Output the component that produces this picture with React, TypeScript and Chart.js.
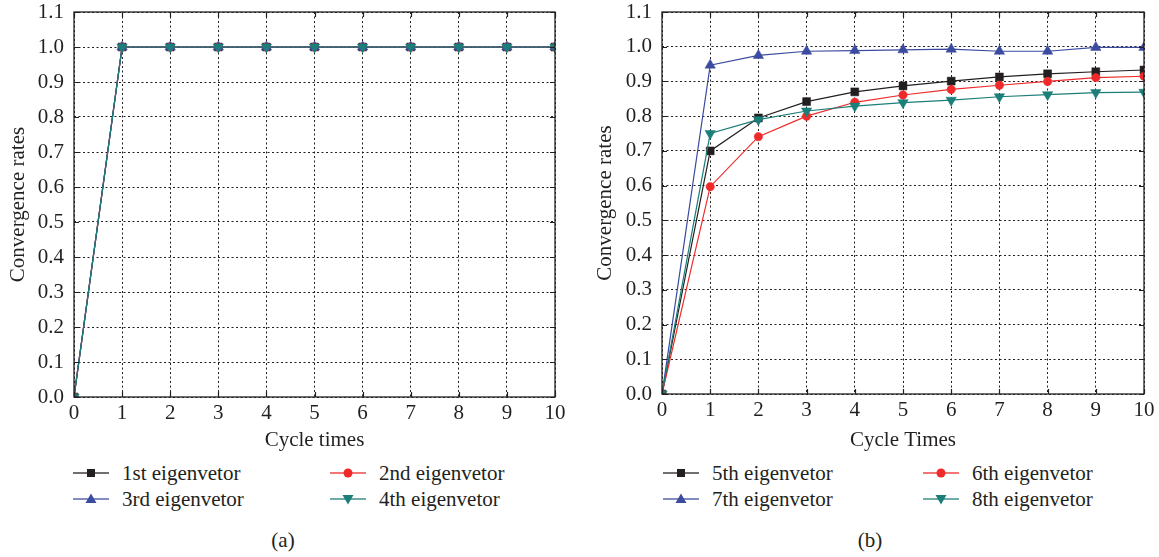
import React, { useEffect, useRef } from "react";
import { Chart, registerables } from "chart.js";

Chart.register(...registerables);

// ---------- data ----------
const cycles = [0, 1, 2, 3, 4, 5, 6, 7, 8, 9, 10];

const eig1 = [0, 1, 1, 1, 1, 1, 1, 1, 1, 1, 1];
const eig2 = [0, 1, 1, 1, 1, 1, 1, 1, 1, 1, 1];
const eig3 = [0, 1, 1, 1, 1, 1, 1, 1, 1, 1, 1];
const eig4 = [0, 1, 1, 1, 1, 1, 1, 1, 1, 1, 1];

const eig5 = [0, 0.7, 0.795, 0.842, 0.87, 0.887, 0.901, 0.913, 0.922, 0.928, 0.933];
const eig6 = [0, 0.597, 0.741, 0.8, 0.84, 0.861, 0.877, 0.889, 0.9, 0.911, 0.915];
const eig7 = [0, 0.947, 0.975, 0.987, 0.989, 0.991, 0.993, 0.987, 0.987, 0.998, 0.998];
const eig8 = [0, 0.75, 0.79, 0.815, 0.829, 0.839, 0.846, 0.856, 0.862, 0.868, 0.869];

const labelsA = ["1st eigenvetor", "2nd eigenvetor", "3rd eigenvetor", "4th eigenvetor"];
const labelsB = ["5th eigenvetor", "6th eigenvetor", "7th eigenvetor", "8th eigenvetor"];

const yMin = 0;
const yMax = 1.1;
const yStep = 0.1;
const xMin = 0;
const xMax = 10;

// ---------- styles ----------
const FONT = "'Liberation Serif', 'Times New Roman', serif";
const TEXT = "#231f20";
const colors = ["#231f20", "#ee2a2a", "#3a4ba0", "#1b7e78"];
const markerStyles: any[] = ["rect", "circle", "triangle", "triangle"];
const markerRot = [0, 0, 0, 180];
const markerRad = [5.6, 4.2, 6, 6];

const framePlugin = {
  id: "frameTicks",
  afterDraw(chart: any) {
    const { ctx, chartArea } = chart;
    const { left, right, top, bottom } = chartArea;
    const xs = chart.scales.x;
    const ys = chart.scales.y;
    ctx.save();
    ctx.strokeStyle = "#231f20";
    ctx.lineWidth = 1.3;
    ctx.setLineDash([]);
    ctx.strokeRect(left, top, right - left, bottom - top);
    ctx.lineWidth = 1.2;
    const L = 5;
    ctx.beginPath();
    xs.ticks.forEach((t: any) => {
      const x = Math.round(xs.getPixelForValue(t.value)) + 0.5;
      ctx.moveTo(x, bottom);
      ctx.lineTo(x, bottom - L);
      ctx.moveTo(x, top);
      ctx.lineTo(x, top + L);
    });
    ys.ticks.forEach((t: any) => {
      const y = Math.round(ys.getPixelForValue(t.value)) + 0.5;
      ctx.moveTo(left, y);
      ctx.lineTo(left + L, y);
      ctx.moveTo(right, y);
      ctx.lineTo(right - L, y);
    });
    ctx.stroke();
    ctx.restore();
  },
};

type PanelCfg = {
  left: number;
  width: number;
  yAxisWidth: number;
  padRight: number;
  topPx: number;
  xAxisHeight: number;
  yTitlePad: number;
  xTitle: string;
  labels: string[];
  series: number[][];
  legendCols: number[];
  caption: string;
  captionX: number;
};

const H = 457;

function Panel({ cfg }: { cfg: PanelCfg }) {
  const ref = useRef<HTMLCanvasElement | null>(null);
  useEffect(() => {
    if (!ref.current) return;
    const datasets = cfg.series.map((vals, i) => ({
      label: cfg.labels[i],
      data: cycles.map((c, j) => ({ x: c, y: vals[j] })),
      borderColor: colors[i],
      backgroundColor: colors[i],
      borderWidth: 1.2,
      pointStyle: markerStyles[i],
      pointRotation: markerRot[i],
      pointRadius: markerRad[i],
      pointBorderWidth: 0.5,
      pointBorderColor: colors[i],
      pointBackgroundColor: colors[i],
      tension: 0,
      order: 4 - i,
    }));
    const chart = new Chart(ref.current, {
      type: "line",
      data: { datasets },
      plugins: [framePlugin],
      options: {
        animation: false,
        responsive: false,
        maintainAspectRatio: false,
        layout: { padding: { left: 0, right: cfg.padRight, top: 0, bottom: 0 } },
        plugins: {
          legend: { display: false },
          tooltip: { enabled: false },
        },
        scales: {
          x: {
            type: "linear",
            min: xMin,
            max: xMax,
            afterFit: (s: any) => {
              s.height = cfg.xAxisHeight;
            },
            ticks: {
              stepSize: 1,
              padding: 4,
              color: TEXT,
              font: { family: FONT, size: 21 },
              maxRotation: 0,
            },
            grid: { color: "#231f20", lineWidth: 1, drawTicks: false },
            border: { display: false, dash: [2, 2.5] },
            title: {
              display: true,
              text: cfg.xTitle,
              color: TEXT,
              font: { family: FONT, size: 21 },
              padding: { top: 0, bottom: 4 },
            },
          },
          y: {
            min: yMin,
            max: yMax,
            afterFit: (s: any) => {
              s.width = cfg.yAxisWidth;
              s.paddingTop = cfg.topPx;
              s.paddingBottom = 0;
            },
            ticks: {
              stepSize: yStep,
              padding: 10,
              color: TEXT,
              font: { family: FONT, size: 21 },
              callback: (v: any) => Number(v).toFixed(1),
            },
            grid: { color: "#231f20", lineWidth: 1, drawTicks: false },
            border: { display: false, dash: [2, 2.5] },
            title: {
              display: true,
              text: "Convergence rates",
              color: TEXT,
              font: { family: FONT, size: 21 },
              padding: { top: cfg.yTitlePad, bottom: 0 },
            },
          },
        },
      } as any,
    });
    return () => chart.destroy();
  }, []);

  const rows = [
    [0, 1],
    [2, 3],
  ];
  const rowY = [473, 499];

  return (
    <>
      <canvas
        ref={ref}
        width={cfg.width}
        height={H}
        style={{ position: "absolute", left: cfg.left, top: 0, width: cfg.width, height: H }}
      />
      {rows.map((r, ri) =>
        r.map((idx, ci) => (
          <div
            key={`${ri}-${ci}`}
            style={{
              position: "absolute",
              left: cfg.legendCols[ci],
              top: rowY[ri] - 13,
              height: 26,
              display: "flex",
              alignItems: "center",
              whiteSpace: "nowrap",
              fontFamily: FONT,
              fontSize: 21,
              color: TEXT,
            }}
          >
            <LegendMark idx={idx} />
            <span style={{ marginLeft: 13, lineHeight: "26px" }}>{cfg.labels[idx]}</span>
          </div>
        ))
      )}
      <div
        style={{
          position: "absolute",
          left: cfg.captionX - 40,
          width: 80,
          top: 527,
          textAlign: "center",
          fontFamily: FONT,
          fontSize: 21,
          lineHeight: "26px",
          color: TEXT,
        }}
      >
        {cfg.caption}
      </div>
    </>
  );
}

function LegendMark({ idx }: { idx: number }) {
  const c = colors[idx];
  let mark: any = null;
  if (idx === 0) mark = <rect x={14} y={3} width={8} height={8} fill={c} />;
  else if (idx === 1) mark = <circle cx={18} cy={7} r={4.5} fill={c} />;
  else if (idx === 2) mark = <polygon points="18,1.5 23.5,11 12.5,11" fill={c} />;
  else mark = <polygon points="18,12.5 23.5,3 12.5,3" fill={c} />;
  return (
    <svg width={36} height={14} style={{ display: "block" }}>
      <line x1={0} y1={7} x2={36} y2={7} stroke={c} strokeWidth={1.6} opacity={0.85} />
      {mark}
    </svg>
  );
}

const panelA: PanelCfg = {
  left: 0,
  width: 580,
  yAxisWidth: 74,
  padRight: 25,
  topPx: 12,
  xAxisHeight: 60,
  yTitlePad: 6,
  xTitle: "Cycle times",
  labels: labelsA,
  series: [eig1, eig2, eig3, eig4],
  legendCols: [73, 330],
  caption: "(a)",
  captionX: 283,
};

const panelB: PanelCfg = {
  left: 580,
  width: 579,
  yAxisWidth: 82,
  padRight: 15,
  topPx: 12,
  xAxisHeight: 63,
  yTitlePad: 13,
  xTitle: "Cycle Times",
  labels: labelsB,
  series: [eig5, eig6, eig7, eig8],
  legendCols: [663, 923],
  caption: "(b)",
  captionX: 870,
};

export default function App() {
  return (
    <div
      style={{
        position: "absolute",
        left: 0,
        top: 0,
        width: 1159,
        height: 557,
        background: "#fff",
        overflow: "hidden",
      }}
    >
      <Panel cfg={panelA} />
      <Panel cfg={panelB} />
    </div>
  );
}
